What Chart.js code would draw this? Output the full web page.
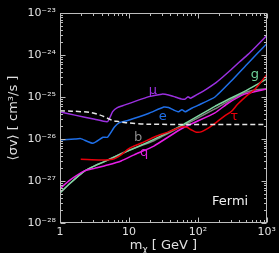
<!DOCTYPE html>
<html>
<head>
<meta charset="utf-8">
<script src="https://cdn.jsdelivr.net/npm/chart.js@4/dist/chart.umd.min.js"></script>
<style>
  html, body { margin: 0; padding: 0; background: #000; }
  canvas { display: block; }
</style>
</head>
<body>
<canvas id="chart" width="279" height="253"></canvas>
<script>
// masses (GeV) and <sigma v> limits (cm^3/s)
const massRelic = [1, 1.5, 2.7, 3.5, 4.2, 5.8, 7, 9, 19.5, 1000];
const sigmaRelic = [4.7e-26, 4.6e-26, 4.3e-26, 3.9e-26, 3.5e-26, 2.75e-26, 2.6e-26, 2.45e-26, 2.25e-26, 2.2e-26];

const massMu = [1, 1.64, 3.2, 4.9, 5.8, 6.8, 8.1, 19.6, 30, 37.6, 47, 58.7, 65, 72, 78, 100, 130, 177, 230, 305, 400, 530, 700, 1000];
const sigmaMu = [4.4e-26, 3.7e-26, 2.95e-26, 2.6e-26, 4.5e-26, 5.6e-26, 6.2e-26, 1.02e-25, 1.17e-25, 1.12e-25, 1.0e-25, 8.9e-26, 8.9e-26, 1.02e-25, 9.3e-26, 1.17e-25, 1.5e-25, 2.1e-25, 3.0e-25, 4.5e-25, 6.8e-25, 1.02e-24, 1.6e-24, 2.9e-24];

const massE = [1, 1.64, 2, 3.0, 4.2, 4.9, 6.2, 7.3, 9.6, 19.6, 32, 37.6, 44.6, 52.5, 58.7, 65.5, 81.5, 100, 177, 305, 530, 1000];
const sigmaE = [9.5e-27, 1.0e-26, 1.02e-26, 7.9e-27, 1.1e-26, 1.1e-26, 1.95e-26, 2.45e-26, 2.75e-26, 4.1e-26, 5.75e-26, 5.6e-26, 4.9e-26, 4.45e-26, 5.0e-26, 4.45e-26, 5.4e-26, 6.3e-26, 1.0e-25, 2.4e-25, 6.3e-25, 1.86e-24];

const massTau = [2.0, 3.96, 5.8, 7.7, 10.1, 14.9, 23, 37.8, 58.7, 69.6, 80, 95, 114, 158, 245, 305, 380, 530, 660, 1000];
const sigmaTau = [3.3e-27, 3.16e-27, 3.3e-27, 4.2e-27, 6.0e-27, 7.9e-27, 1.1e-26, 1.48e-26, 1.95e-26, 1.9e-26, 1.66e-26, 1.45e-26, 1.5e-26, 2.05e-26, 3.55e-26, 4.5e-26, 6.8e-26, 1.12e-25, 1.48e-25, 3.4e-25];

const massB = [1, 1.39, 2.28, 3.18, 4.4, 7, 10, 23, 58.7, 177, 274, 475, 700, 1000];
const sigmaB = [5.2e-28, 8.7e-28, 1.74e-27, 2.3e-27, 2.9e-27, 4.2e-27, 5.4e-27, 9.1e-27, 2.0e-26, 5.2e-26, 7.9e-26, 1.26e-25, 1.48e-25, 1.58e-25];

const massG = [1, 1.39, 2.28, 3.18, 4.4, 7.7, 11.9, 23, 62, 177, 530, 1000];
const sigmaG = [5.2e-28, 8.7e-28, 1.74e-27, 2.3e-27, 2.9e-27, 4.4e-27, 6.0e-27, 9.8e-27, 2.24e-26, 6.0e-26, 1.5e-25, 2.7e-25];

const massQ = [1, 1.39, 2.28, 3.18, 4.9, 7.7, 11.9, 23, 58.7, 177, 274, 475, 1000];
const sigmaQ = [6.6e-28, 1.05e-27, 1.74e-27, 2.0e-27, 2.4e-27, 3.0e-27, 4.2e-27, 6.8e-27, 1.78e-26, 4.2e-26, 7.1e-26, 1.17e-25, 1.55e-25];

const xTicks = [1, 10, 100, 1000];
const xTickLabels = ['1', '10', '10²', '10³'];
const yTicks = [1e-28, 1e-27, 1e-26, 1e-25, 1e-24, 1e-23];
const yTickLabels = ['10⁻²⁸', '10⁻²⁷', '10⁻²⁶', '10⁻²⁵', '10⁻²⁴', '10⁻²³'];

// channel labels written inside the plot, in data coordinates
const channelNames = ['μ', 'e', 'b', 'q', 'g', 'τ'];
const channelX = [22.3, 31, 13.6, 16.6, 670, 335];
const channelY = [1.4e-25, 3.5e-26, 1.05e-26, 4.7e-27, 3.5e-25, 3.4e-26];
const channelColors = ['#9b30e0', '#1f6fe8', '#8a8a8a', '#e020e0', '#6fd39a', '#e8000b'];

const zip = (xs, ys) => xs.map((x, i) => ({ x, y: ys[i] }));

function line(data, color, extra) {
    return Object.assign({
        data,
        borderColor: color,
        borderWidth: 1.5,
        pointRadius: 0,
        fill: false,
        tension: 0.15
    }, extra || {});
}

const FONT = '"DejaVu Sans", sans-serif';

const framePlugin = {
    id: 'frame',
    beforeDraw(chart) {
        const ctx = chart.ctx;
        ctx.save();
        ctx.fillStyle = '#000';
        ctx.fillRect(0, 0, chart.width, chart.height);
        ctx.restore();
    },
    afterDraw(chart) {
        const { ctx, chartArea: a, scales: { x, y } } = chart;
        ctx.save();
        ctx.strokeStyle = '#bdbdbd';
        ctx.lineWidth = 1;
        const L = Math.round(a.left) + 0.5, R = Math.round(a.right) - 0.5;
        const T = Math.round(a.top) + 0.5, B = Math.round(a.bottom) - 0.5;
        ctx.strokeRect(L, T, R - L, B - T);

        // inward ticks, major and minor, on all four sides
        ctx.beginPath();
        for (let d = 0; d <= 3; d++) {
            for (let k = 1; k <= 9; k++) {
                const v = k * Math.pow(10, d);
                if (v > 1000) break;
                const px = Math.round(x.getPixelForValue(v)) + 0.5;
                const len = k === 1 ? 5 : 2.5;
                ctx.moveTo(px, B); ctx.lineTo(px, B - len);
                ctx.moveTo(px, T); ctx.lineTo(px, T + len);
            }
        }
        for (let d = -28; d <= -23; d++) {
            for (let k = 1; k <= 9; k++) {
                const v = k * Math.pow(10, d);
                if (v > 1.0001e-23) break;
                const py = Math.round(y.getPixelForValue(v)) + 0.5;
                const len = k === 1 ? 5 : 2.5;
                ctx.moveTo(L, py); ctx.lineTo(L + len, py);
                ctx.moveTo(R, py); ctx.lineTo(R - len, py);
            }
        }
        ctx.stroke();

        // channel labels
        ctx.font = '13px ' + FONT;
        ctx.textAlign = 'center';
        ctx.textBaseline = 'middle';
        channelNames.forEach((n, i) => {
            ctx.fillStyle = channelColors[i];
            ctx.fillText(n, x.getPixelForValue(channelX[i]), y.getPixelForValue(channelY[i]));
        });

        ctx.fillStyle = '#f0f0f0';
        ctx.font = '13px ' + FONT;
        ctx.fillText('Fermi', x.getPixelForValue(294), y.getPixelForValue(3.2e-28));

        // x axis title: m_chi [ GeV ]
        ctx.fillStyle = '#e0e0e0';
        ctx.textAlign = 'left';
        ctx.textBaseline = 'alphabetic';
        const cx = (a.left + a.right) / 2;
        const base = 249;
        ctx.font = '13px ' + FONT;
        const wM = ctx.measureText('m').width;
        const wRest = ctx.measureText(' [ GeV ]').width;
        ctx.font = '9px ' + FONT;
        const wChi = ctx.measureText('χ').width;
        let sx = cx - (wM + wChi + wRest) / 2;
        ctx.font = '13px ' + FONT;
        ctx.fillText('m', sx, base);
        ctx.font = '9px ' + FONT;
        ctx.fillText('χ', sx + wM, base + 3);
        ctx.font = '13px ' + FONT;
        ctx.fillText(' [ GeV ]', sx + wM + wChi, base);

        // y axis title: <sigma v> [ cm^3/s ]
        ctx.translate(17, (a.top + a.bottom) / 2);
        ctx.rotate(-Math.PI / 2);
        ctx.textAlign = 'center';
        ctx.font = '13px ' + FONT;
        ctx.fillText('⟨σv⟩ [ cm³/s ]', 0, 0);
        ctx.restore();
    }
};

const chart = new Chart(document.getElementById('chart'), {
    type: 'line',
    data: {
        datasets: [
            line(zip(massRelic, sigmaRelic), '#e6e6e6', { borderDash: [5, 3], tension: 0.3 }),
            line(zip(massMu, sigmaMu), '#9b30e0'),
            line(zip(massE, sigmaE), '#1f6fe8'),
            line(zip(massTau, sigmaTau), '#e8000b', { tension: 0.3 }),
            line(zip(massQ, sigmaQ), '#e81ee8'),
            line(zip(massG, sigmaG), '#7ed6a0'),
            line(zip(massB, sigmaB), '#808080')
        ]
    },
    options: {
        responsive: false,
        devicePixelRatio: 1,
        animation: false,
        layout: { padding: { top: 13, right: 10, left: 0, bottom: 0 } },
        plugins: { legend: { display: false }, tooltip: { enabled: false } },
        scales: {
            x: {
                type: 'logarithmic',
                min: 1,
                max: 1000,
                grid: { display: false, drawTicks: false },
                border: { display: false },
                afterBuildTicks: s => { s.ticks = xTicks.map(v => ({ value: v })); },
                afterFit: s => { s.height = 30; },
                ticks: {
                    autoSkip: false,
                    maxRotation: 0,
                    padding: 3,
                    color: '#e0e0e0',
                    font: { family: 'DejaVu Sans', size: 11 },
                    callback: (v) => xTickLabels[xTicks.indexOf(v)] || ''
                }
            },
            y: {
                type: 'logarithmic',
                min: 1e-28,
                max: 1e-23,
                grid: { display: false, drawTicks: false },
                border: { display: false },
                afterBuildTicks: s => { s.ticks = yTicks.map(v => ({ value: v })); },
                afterFit: s => { s.width = 60; },
                ticks: {
                    autoSkip: false,
                    padding: 4,
                    color: '#e0e0e0',
                    font: { family: 'DejaVu Sans', size: 11 },
                    callback: (v) => {
                        const i = yTicks.findIndex(t => Math.abs(Math.log10(t) - Math.log10(v)) < 1e-6);
                        return i >= 0 ? yTickLabels[i] : '';
                    }
                }
            }
        }
    },
    plugins: [framePlugin]
});
</script>
</body>
</html>
